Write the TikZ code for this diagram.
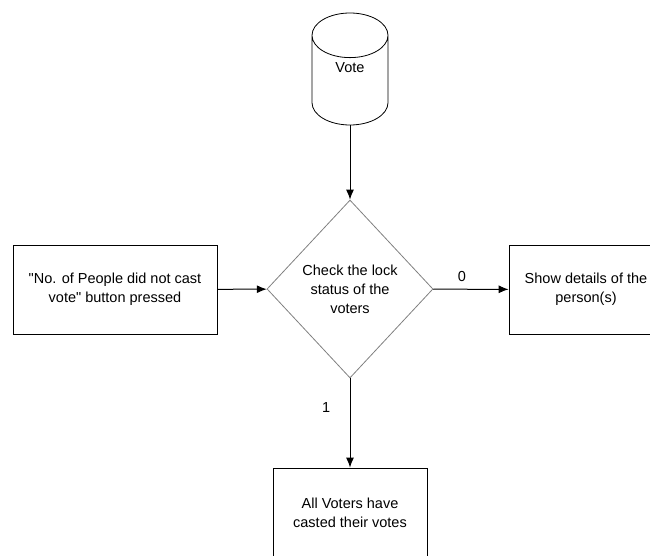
\documentclass[tikz,border=0pt]{standalone}
\usepackage{fontspec}
\setmainfont{Liberation Sans}
\usetikzlibrary{shapes.geometric,arrows.meta}

\begin{document}
\begin{tikzpicture}[x=1pt,y=-1pt,font=\fontsize{14.5}{19}\selectfont,
  box/.style={draw,rectangle,line width=0.8pt,minimum height=89,align=center},
  flow/.style={line width=1pt,-{Latex[length=10pt,width=8pt]}}]
\useasboundingbox (0,0) rectangle (650,556);
\clip (0,0) rectangle (650,556);

\node [draw,cylinder,shape border rotate=90,aspect=1.25,line width=0.8pt,minimum width=76,minimum height=112,anchor=shape center] (vote) at(350,69){\phantom{Vote}};
\node (votetext) at(350,68){Vote};

\node [draw=gray,diamond,line width=0.8pt,minimum width=166,minimum height=178,inner sep=0,align=center] (check) at(350,289){Check the lock\\status of the\\voters};

\node [box,minimum width=204] (pressed) at(115,289.5){\textquotedbl No. of People did not cast\\vote\textquotedbl{} button pressed};
\node [box,minimum width=154] (details) at(586,289.5){Show details of the\\person(s)};
\node [box,minimum width=154] (allvoted) at(350,512.5){All Voters have\\casted their votes};

\draw[flow](vote) -- (check);
\draw[flow](pressed) -- (check);
\draw[flow](check) -- node[above=4pt,pos=0.38]{0} (details);
\draw[flow](check) -- node[left=16pt,pos=0.33]{1} (allvoted);

\end{tikzpicture}
\end{document}
